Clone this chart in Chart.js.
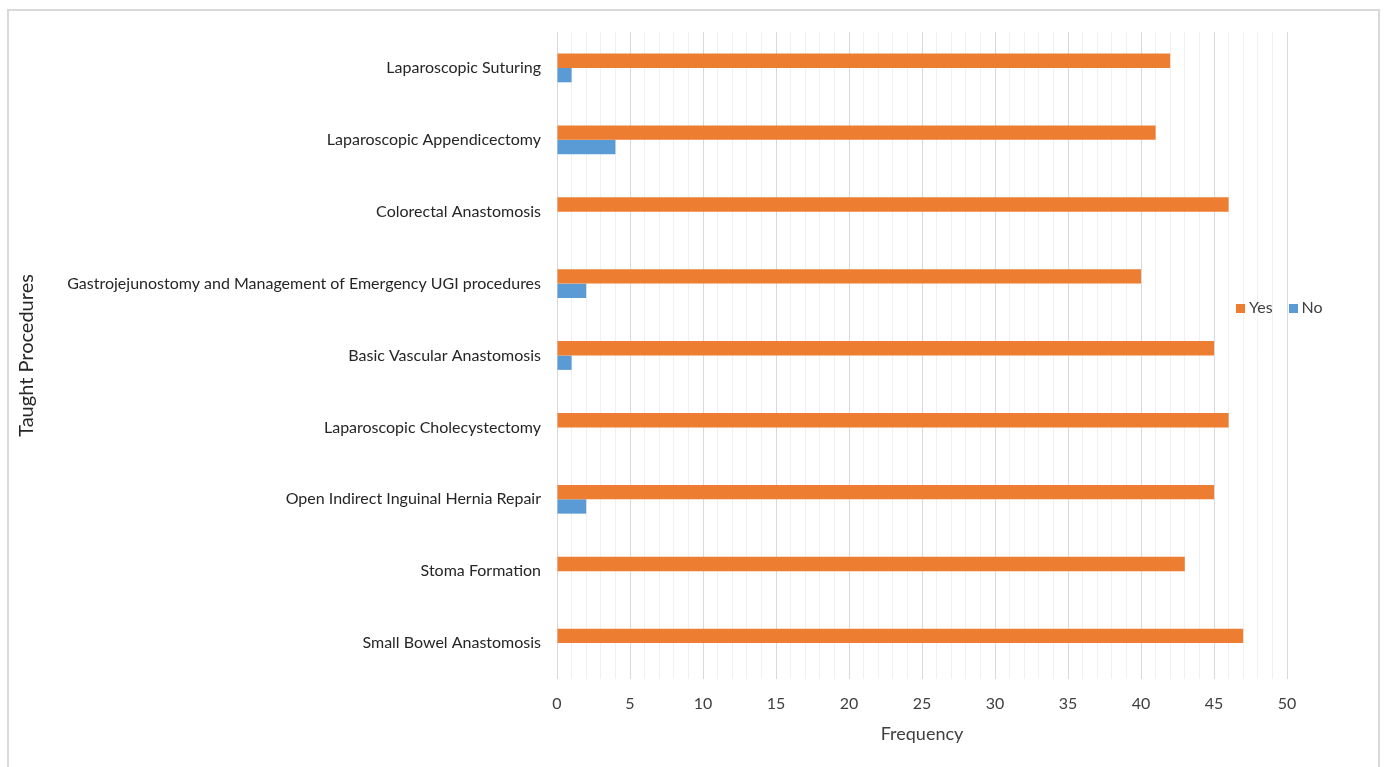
<!DOCTYPE html>
<html>
<head>
<meta charset="utf-8">
<script src="https://cdn.jsdelivr.net/npm/chart.js@4.4.0/dist/chart.umd.min.js"></script>
<style>
  body { margin: 0; background: #fff; }
  #wrap { position: relative; width: 1389px; height: 767px; }
  #frame { position: absolute; left: 7px; top: 9px; width: 1373px; height: 770px; border: 2px solid #d9d9d9; box-sizing: border-box; }
  #legend { position: absolute; left: 1236px; top: 297px; font: 16px Lato, sans-serif; color: #404040; display: flex; gap: 16px; }
  #legend span i { display: inline-block; width: 9px; height: 9px; margin-right: 4px; }
</style>
</head>
<body>
<div id="wrap">
  <div id="frame"></div>
  <canvas id="chart"></canvas>
  <div id="legend">
    <span><i style="background:#ED7D31"></i>Yes</span>
    <span><i style="background:#5B9BD5"></i>No</span>
  </div>
</div>
<script>
const procedures = [
    'Laparoscopic Suturing',
    'Laparoscopic Appendicectomy',
    'Colorectal Anastomosis',
    'Gastrojejunostomy and Management of Emergency UGI procedures',
    'Basic Vascular Anastomosis',
    'Laparoscopic Cholecystectomy',
    'Open Indirect Inguinal Hernia Repair',
    'Stoma Formation',
    'Small Bowel Anastomosis'
];
const yesCounts = [42, 41, 46, 40, 45, 46, 45, 43, 47];
const noCounts = [1, 4, 0, 2, 1, 0, 2, 0, 0];

const ctx = document.getElementById('chart').getContext('2d');
ctx.canvas.width = 1389;
ctx.canvas.height = 767;

Chart.defaults.font.family = 'Lato, sans-serif';
Chart.defaults.color = '#404040';

new Chart(ctx, {
    type: 'bar',
    data: {
        labels: procedures,
        datasets: [
            {
                label: 'Yes',
                data: yesCounts,
                backgroundColor: '#ED7D31',
                categoryPercentage: 0.4,
                barPercentage: 1.0
            },
            {
                label: 'No',
                data: noCounts,
                backgroundColor: '#5B9BD5',
                categoryPercentage: 0.4,
                barPercentage: 1.0
            }
        ]
    },
    options: {
        indexAxis: 'y',
        responsive: false,
        animation: false,
        layout: { padding: { left: 11, right: 102, top: 32, bottom: 20 } },
        plugins: {
            legend: { display: false },
            tooltip: { enabled: false }
        },
        scales: {
            x: {
                min: 0,
                max: 50,
                ticks: {
                    stepSize: 1,
                    autoSkip: false,
                    maxRotation: 0,
                    padding: 15,
                    font: { size: 16 },
                    callback: v => (v % 5 === 0 ? v : '')
                },
                grid: {
                    drawTicks: false,
                    lineWidth: 1,
                    color: c => (c.tick && c.tick.value % 5 === 0 ? '#d9d9d9' : '#f0f0f0')
                },
                border: { display: false },
                title: { display: true, text: 'Frequency', font: { size: 18 }, padding: { top: 4, bottom: 2 } },
                afterFit: s => { s.height = 767 - 20 - 679; }
            },
            y: {
                grid: { display: false },
                border: { display: false },
                ticks: { padding: 8, font: { size: 16 }, color: '#262626' },
                title: { display: true, text: 'Taught Procedures', font: { size: 20 }, color: '#262626', padding: { top: 4, bottom: 4 } },
                afterFit: s => { s.width = 557 - 11; }
            }
        }
    }
});
</script>
</body>
</html>
